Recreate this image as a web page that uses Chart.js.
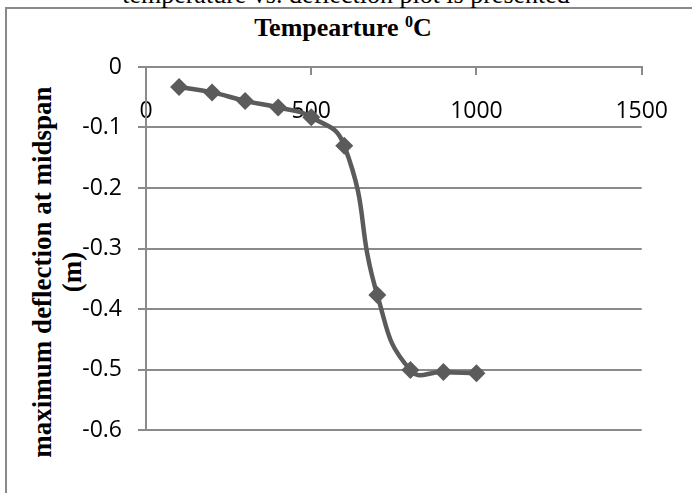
<!DOCTYPE html>
<html>
<head>
<meta charset="utf-8">
<script src="https://cdn.jsdelivr.net/npm/chart.js@4/dist/chart.umd.min.js"></script>
<style>
    body { margin: 0; background: #fff; overflow: hidden; }
    #wrap { position: relative; width: 692px; height: 493px; overflow: hidden; }
    #frame { position: absolute; left: 5px; top: 7px; width: 720px; height: 520px; border: 2px solid #898989; }
    #caption { position: absolute; left: 0; top: -18px; width: 692px; text-align: center;
        font: 26px/26px "Liberation Serif", "Times New Roman", serif; white-space: nowrap; }
    #title { position: absolute; left: 0; top: 15px; width: 686px; text-align: center;
        font: bold 26px/26px "Liberation Serif", "Times New Roman", serif; white-space: nowrap; }
    #title sup { font-size: 16px; line-height: 0; vertical-align: 9px; }
    #ytitle { position: absolute; left: -153px; top: 242px; width: 420px; height: 60px; text-align: center;
        font: bold 27px/30px "Liberation Serif", "Times New Roman", serif; white-space: nowrap;
        transform: rotate(-90deg); }
    canvas { position: absolute; left: 0; top: 0; }
</style>
</head>
<body>
<div id="wrap">
    <div id="frame"></div>
    <div id="caption">temperature vs. deflection plot is presented</div>
    <div id="title">Tempearture <sup>0</sup>C</div>
    <div id="ytitle">maximum deflection at midspan<br>(m)</div>
    <canvas id="deflectionChart" width="692" height="493"></canvas>
</div>
<script>
// temperature (°C) and maximum midspan deflection (m)
const temperatures = [100, 200, 300, 400, 500, 600, 700, 800, 900, 1000];
const deflections = [-0.033, -0.042, -0.056, -0.067, -0.083, -0.13, -0.377, -0.501, -0.504, -0.506];

const xTicks = [0, 500, 1000, 1500];
const xTickLabels = ['0', '500', '1000', '1500'];
const yTicks = [0, -0.1, -0.2, -0.3, -0.4, -0.5, -0.6];
const yTickLabels = ['0', '-0.1', '-0.2', '-0.3', '-0.4', '-0.5', '-0.6'];

const gridGray = '#8a8a8a';
const seriesGray = '#5b5b5b';

const ctx = document.getElementById('deflectionChart').getContext('2d');
new Chart(ctx, {
    type: 'scatter',
    data: {
        datasets: [{
            label: 'Deflection',
            data: temperatures.map((t, i) => ({ x: t, y: deflections[i] })),
            showLine: true,
            tension: 0.5,
            borderColor: seriesGray,
            borderWidth: 4.5,
            backgroundColor: seriesGray,
            pointStyle: 'rectRot',
            pointRadius: 9,
            pointHoverRadius: 9,
            pointBorderWidth: 0
        }]
    },
    options: {
        responsive: false,
        animation: false,
        events: [],
        layout: {
            padding: { left: 46, right: 47, top: 67, bottom: 63 }
        },
        plugins: {
            legend: { display: false },
            tooltip: { enabled: false }
        },
        scales: {
            x: {
                type: 'linear',
                position: { y: 0 },
                min: 0,
                max: 1500,
                afterBuildTicks: scale => { scale.ticks = xTicks.map(v => ({ value: v })); },
                grid: {
                    drawOnChartArea: false,
                    drawTicks: true,
                    tickLength: 7,
                    color: gridGray,
                    lineWidth: 2
                },
                border: { display: true, color: gridGray, width: 2 },
                ticks: {
                    padding: 24,
                    maxRotation: 0,
                    color: '#000',
                    font: { family: 'Open Sans', size: 23 },
                    callback: (value, index) => xTickLabels[index]
                }
            },
            y: {
                type: 'linear',
                position: 'left',
                min: -0.6,
                max: 0,
                afterBuildTicks: scale => { scale.ticks = yTicks.map(v => ({ value: v })); },
                afterFit: scale => { scale.width = 100; },
                grid: {
                    drawOnChartArea: true,
                    drawTicks: true,
                    tickLength: 8,
                    color: gridGray,
                    lineWidth: 2
                },
                border: { display: true, color: gridGray, width: 2 },
                ticks: {
                    padding: 16,
                    color: '#000',
                    font: { family: 'Open Sans', size: 23 },
                    callback: (value, index) => yTickLabels[index]
                }
            }
        }
    }
});
</script>
</body>
</html>
